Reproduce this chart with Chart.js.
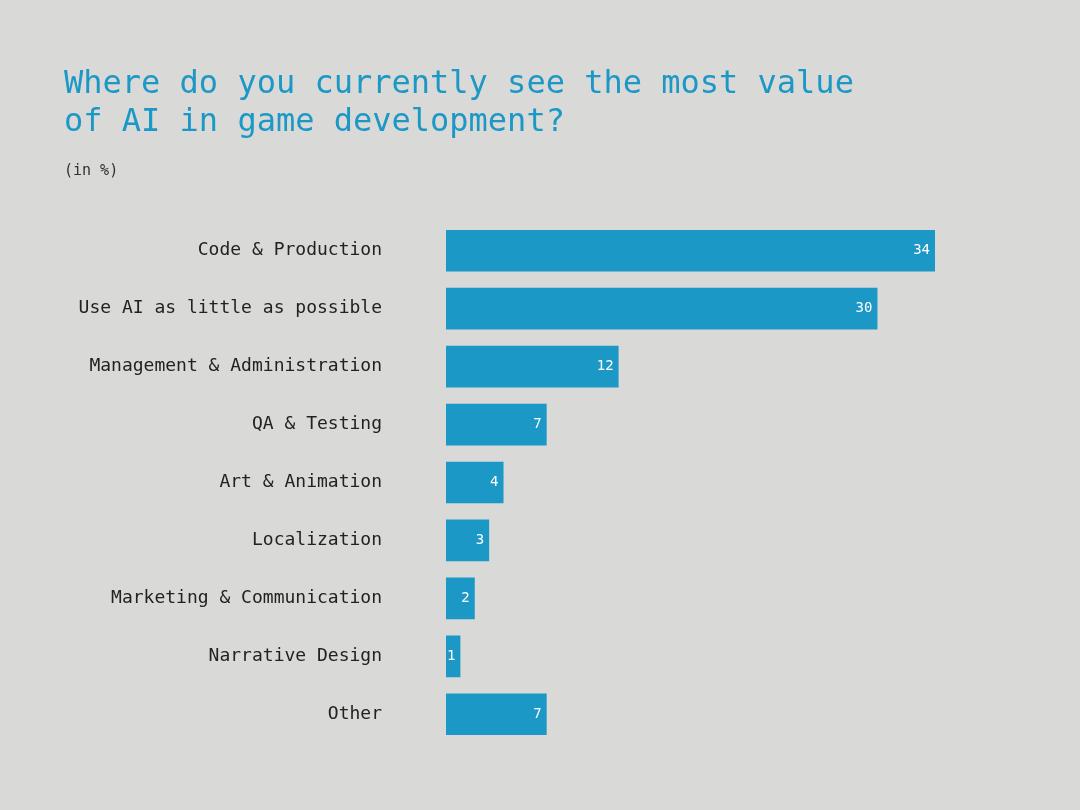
<!DOCTYPE html>
<html>
<head>
<meta charset="utf-8">
<script src="https://cdn.jsdelivr.net/npm/chart.js@4"></script>
<style>
  html, body { margin: 0; background: #d9d9d7; }
  #wrap { width: 1080px; height: 810px; }
</style>
</head>
<body>
<div id="wrap"><canvas id="chart"></canvas></div>
<script>
const categories = ['Code & Production', 'Use AI as little as possible', 'Management & Administration',
  'QA & Testing', 'Art & Animation', 'Localization', 'Marketing & Communication', 'Narrative Design', 'Other'];
const values = [34, 30, 12, 7, 4, 3, 2, 1, 7];

const blue = '#1b98c6';

// white value labels at the end of each bar
const valueLabels = {
  id: 'valueLabels',
  afterDatasetsDraw(chart) {
    const c = chart.ctx;
    const meta = chart.getDatasetMeta(0);
    c.save();
    c.fillStyle = '#ffffff';
    c.font = '14px "DejaVu Sans Mono"';
    c.textAlign = 'right';
    c.textBaseline = 'middle';
    meta.data.forEach((bar, i) => {
      c.fillText(String(values[i]), bar.x - 5, bar.y);
    });
    c.restore();
  }
};

new Chart(document.getElementById('chart'), {
  type: 'bar',
  data: {
    labels: categories,
    datasets: [{
      data: values,
      backgroundColor: blue,
      barPercentage: 0.72,
      categoryPercentage: 1
    }]
  },
  options: {
    indexAxis: 'y',
    responsive: true,
    maintainAspectRatio: false,
    animation: false,
    layout: { padding: { left: 64, right: 145, top: 55, bottom: 62 } },
    scales: {
      x: { display: false, min: 0, max: 34 },
      y: {
        grid: { display: false },
        border: { display: false },
        afterFit(scale) { scale.width = 382; },
        ticks: {
          color: '#222',
          padding: 56,
          font: { family: '"DejaVu Sans Mono"', size: 18 }
        }
      }
    },
    plugins: {
      legend: { display: false },
      tooltip: { enabled: false },
      title: {
        display: true,
        align: 'start',
        text: ['Where do you currently see the most value', 'of AI in game development?'],
        color: blue,
        font: { family: '"DejaVu Sans Mono"', size: 32, weight: 'normal', lineHeight: 1.2 },
        padding: { top: 10, bottom: 10 }
      },
      subtitle: {
        display: true,
        align: 'start',
        text: '(in %)',
        color: '#333',
        font: { family: '"DejaVu Sans Mono"', size: 15 },
        padding: { top: 10, bottom: 42 }
      }
    }
  },
  plugins: [valueLabels]
});
</script>
</body>
</html>
